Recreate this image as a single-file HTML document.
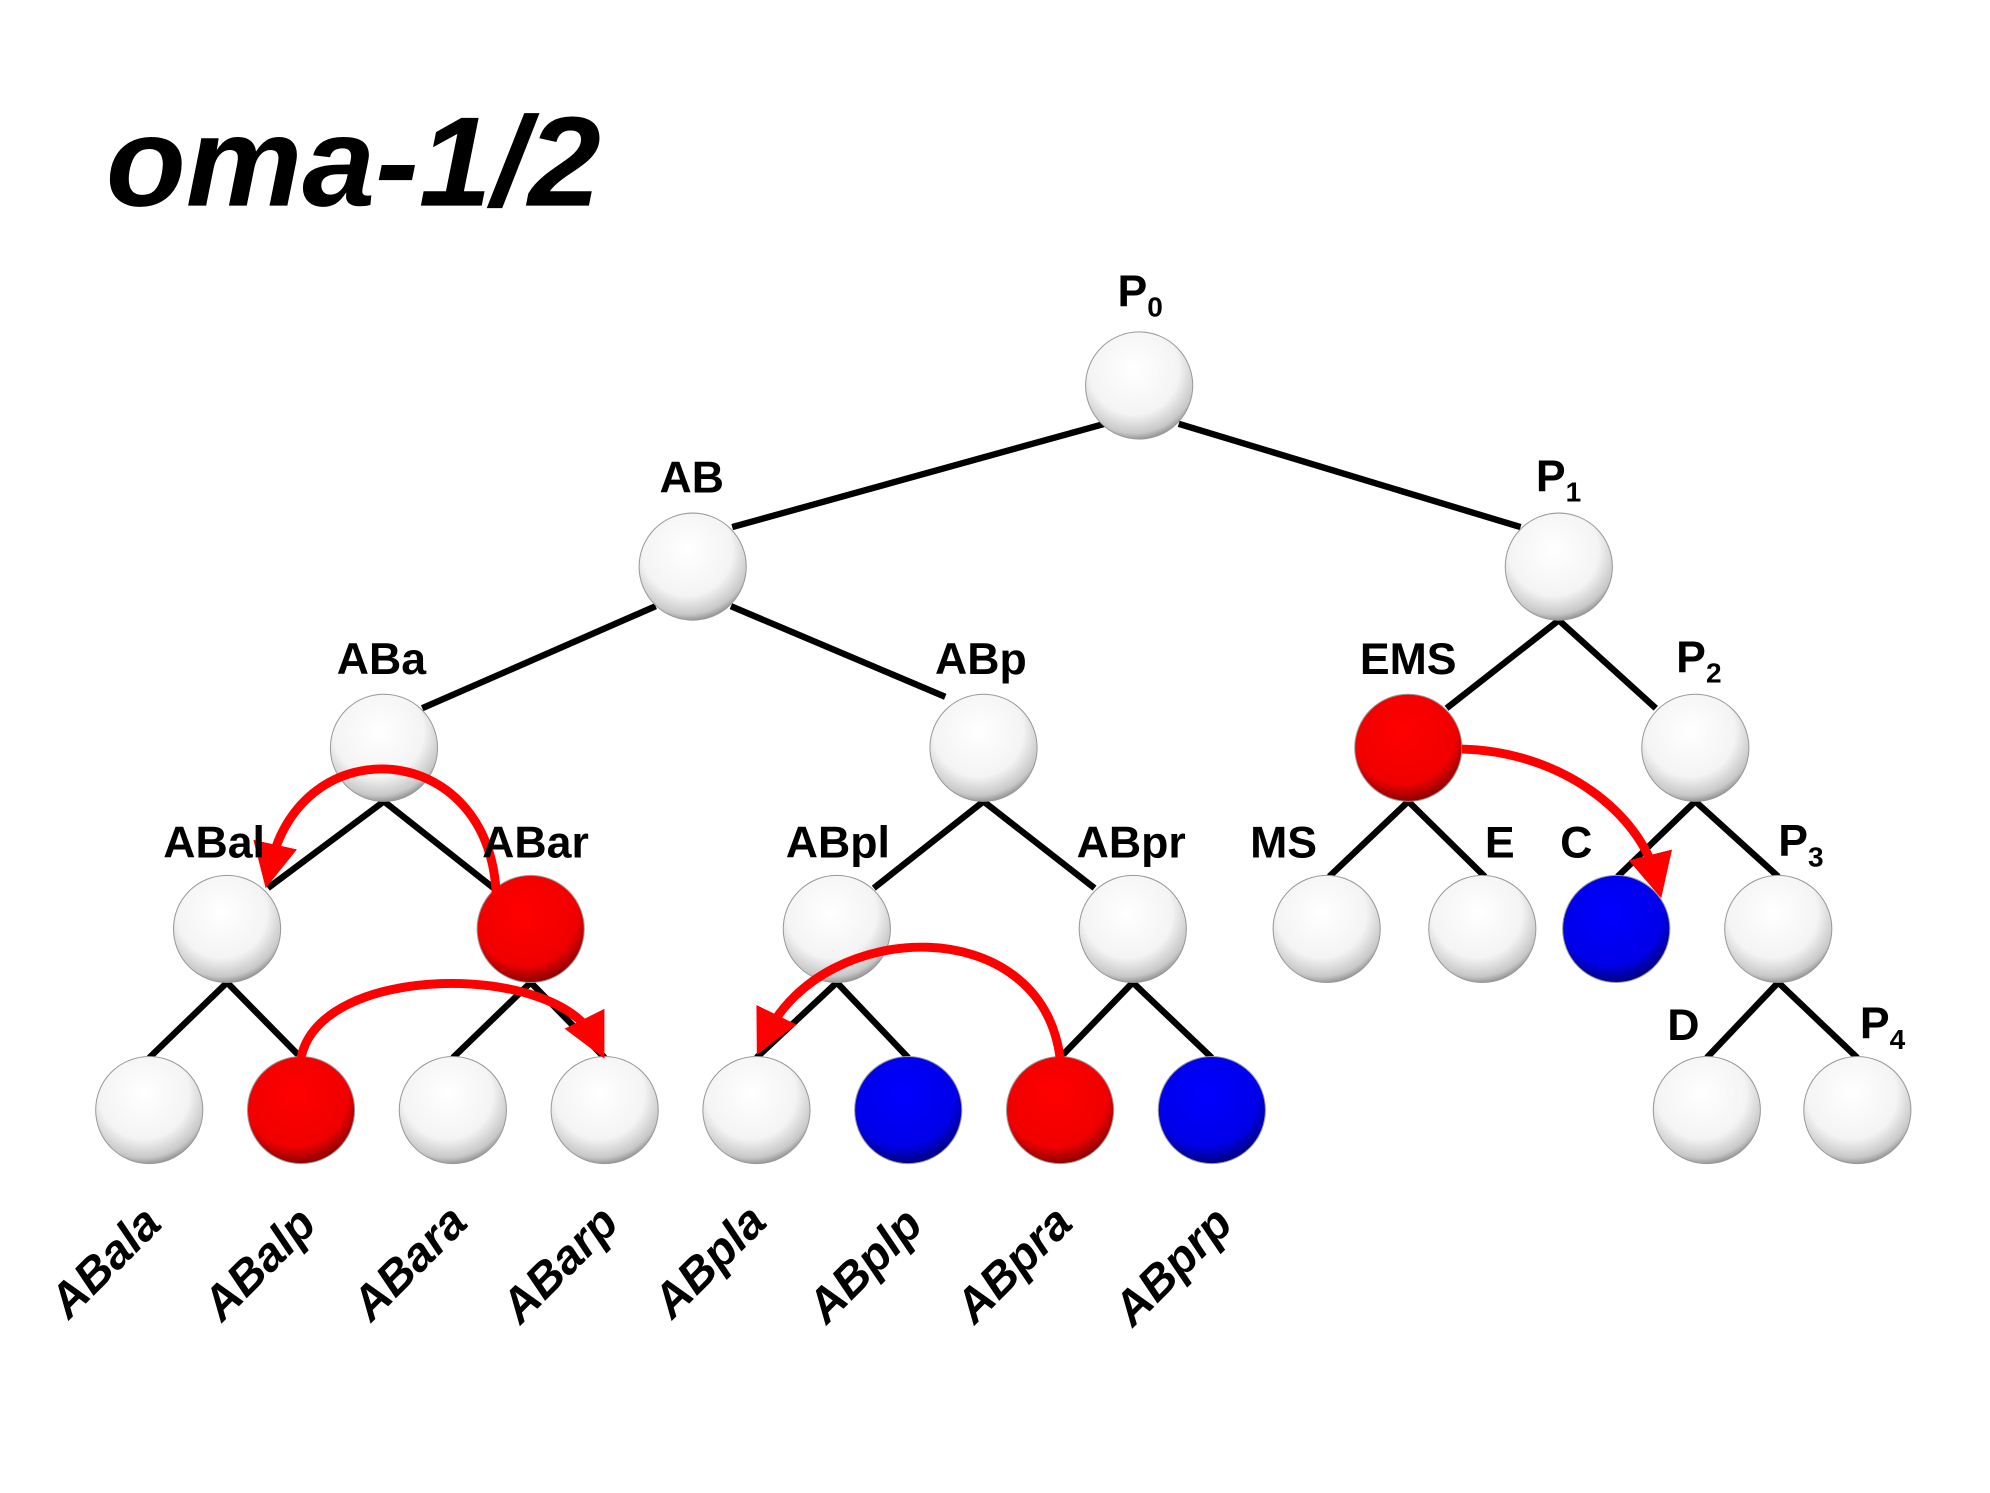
<!DOCTYPE html>
<html><head><style>html,body{margin:0;padding:0;background:#fff}svg{display:block}</style></head>
<body>
<svg width="1990" height="1493" viewBox="0 0 1560 1170" xmlns="http://www.w3.org/2000/svg" font-family="Liberation Sans, Arial, sans-serif" font-weight="bold">
<defs>
<radialGradient id="w" cx="0.45" cy="0.35" r="0.7"><stop offset="0" stop-color="#fff"/><stop offset="0.6" stop-color="#f4f4f4"/><stop offset="0.85" stop-color="#c8c8c8"/><stop offset="1" stop-color="#707070"/></radialGradient>
<radialGradient id="r" cx="0.45" cy="0.35" r="0.7"><stop offset="0" stop-color="#ff0000"/><stop offset="0.7" stop-color="#f00000"/><stop offset="1" stop-color="#700000"/></radialGradient>
<radialGradient id="b" cx="0.45" cy="0.35" r="0.7"><stop offset="0" stop-color="#0000ff"/><stop offset="0.7" stop-color="#0000e8"/><stop offset="1" stop-color="#000060"/></radialGradient>
<marker id="ah" markerWidth="5" markerHeight="5" refX="2.5" refY="2.5" orient="auto" markerUnits="strokeWidth"><path d="M0,0 L5,2.5 L0,5 z" fill="#f00"/></marker>
</defs>
<g transform="translate(-4,-1)">
<text x="87" y="162" font-size="100" font-style="italic" textLength="388" lengthAdjust="spacingAndGlyphs">oma-1/2</text>
<g stroke="#000" stroke-width="5" fill="none">
<line x1="870" y1="333" x2="578" y2="414"/><line x1="928" y1="333" x2="1196" y2="414"/>
<line x1="518" y1="476" x2="335" y2="556"/><line x1="577" y1="476" x2="745" y2="547"/>
<line x1="1226" y1="487" x2="1138" y2="556"/><line x1="1226" y1="487" x2="1302" y2="556"/>
<line x1="305" y1="629" x2="214" y2="697"/><line x1="305" y1="629" x2="391" y2="697"/>
<line x1="775" y1="629" x2="689" y2="697"/><line x1="775" y1="629" x2="862" y2="697"/>
<line x1="1108" y1="629" x2="1046" y2="688"/><line x1="1108" y1="629" x2="1168" y2="688"/>
<line x1="1333" y1="629" x2="1272" y2="688"/><line x1="1333" y1="629" x2="1398" y2="688"/>
<line x1="182" y1="771" x2="121" y2="830"/><line x1="182" y1="771" x2="240" y2="830"/>
<line x1="420" y1="771" x2="359" y2="830"/><line x1="420" y1="771" x2="478" y2="830"/>
<line x1="660" y1="771" x2="597" y2="830"/><line x1="660" y1="771" x2="716" y2="830"/>
<line x1="892" y1="771" x2="835" y2="830"/><line x1="892" y1="771" x2="954" y2="830"/>
<line x1="1398" y1="771" x2="1342" y2="830"/><line x1="1398" y1="771" x2="1460" y2="830"/>
</g>
<g stroke="#999" stroke-width="0.8">
<ellipse cx="897" cy="303" rx="42" ry="42" fill="url(#w)"/>
<ellipse cx="547" cy="445" rx="42" ry="42" fill="url(#w)"/>
<ellipse cx="1226" cy="445" rx="42" ry="42" fill="url(#w)"/>
<ellipse cx="305" cy="587" rx="42" ry="42" fill="url(#w)"/>
<ellipse cx="775" cy="587" rx="42" ry="42" fill="url(#w)"/>
<ellipse cx="1108" cy="587" rx="42" ry="42" fill="url(#r)"/>
<ellipse cx="1333" cy="587" rx="42" ry="42" fill="url(#w)"/>
<ellipse cx="182" cy="729" rx="42" ry="42" fill="url(#w)"/>
<ellipse cx="420" cy="729" rx="42" ry="42" fill="url(#r)"/>
<ellipse cx="660" cy="729" rx="42" ry="42" fill="url(#w)"/>
<ellipse cx="892" cy="729" rx="42" ry="42" fill="url(#w)"/>
<ellipse cx="1044" cy="729" rx="42" ry="42" fill="url(#w)"/>
<ellipse cx="1166" cy="729" rx="42" ry="42" fill="url(#w)"/>
<ellipse cx="1271" cy="729" rx="42" ry="42" fill="url(#b)"/>
<ellipse cx="1398" cy="729" rx="42" ry="42" fill="url(#w)"/>
<ellipse cx="121" cy="871" rx="42" ry="42" fill="url(#w)"/>
<ellipse cx="240" cy="871" rx="42" ry="42" fill="url(#r)"/>
<ellipse cx="359" cy="871" rx="42" ry="42" fill="url(#w)"/>
<ellipse cx="478" cy="871" rx="42" ry="42" fill="url(#w)"/>
<ellipse cx="597" cy="871" rx="42" ry="42" fill="url(#w)"/>
<ellipse cx="716" cy="871" rx="42" ry="42" fill="url(#b)"/>
<ellipse cx="835" cy="871" rx="42" ry="42" fill="url(#r)"/>
<ellipse cx="954" cy="871" rx="42" ry="42" fill="url(#b)"/>
<ellipse cx="1342" cy="871" rx="42" ry="42" fill="url(#w)"/>
<ellipse cx="1460" cy="871" rx="42" ry="42" fill="url(#w)"/>
</g>
<g stroke="#f00" stroke-width="7" fill="none" marker-end="url(#ah)">
<path d="M393,702 C388,580 240,570 216,680"/>
<path d="M240,830 C255,755 440,755 470,815"/>
<path d="M835,830 C820,715 650,720 605,812"/>
<path d="M1150,588 C1230,590 1290,640 1302,688"/>
</g>
<g font-size="35" fill="#000">
<text x="880" y="241">P<tspan font-size="22" dy="8">0</tspan></text>
<text x="521" y="387">AB</text>
<text x="1208" y="386">P<tspan font-size="22" dy="8">1</tspan></text>
<text x="268" y="529">ABa</text>
<text x="737" y="529">ABp</text>
<text x="1070" y="529">EMS</text>
<text x="1318" y="528">P<tspan font-size="22" dy="8">2</tspan></text>
<text x="132" y="673">ABal</text>
<text x="382" y="673">ABar</text>
<text x="620" y="673">ABpl</text>
<text x="848" y="673">ABpr</text>
<text x="984" y="673">MS</text>
<text x="1168" y="673">E</text>
<text x="1227" y="673">C</text>
<text x="1398" y="672">P<tspan font-size="22" dy="8">3</tspan></text>
<text x="1311" y="816">D</text>
<text x="1462" y="815">P<tspan font-size="22" dy="8">4</tspan></text>
</g>
<g font-size="37" font-style="italic" fill="#000">
<text transform="translate(58,1036) rotate(-45)">ABala</text>
<text transform="translate(178,1038) rotate(-45)">ABalp</text>
<text transform="translate(295,1038) rotate(-45)">ABara</text>
<text transform="translate(412,1040) rotate(-45)">ABarp</text>
<text transform="translate(531,1036) rotate(-45)">ABpla</text>
<text transform="translate(652,1040) rotate(-45)">ABplp</text>
<text transform="translate(768,1040) rotate(-45)">ABpra</text>
<text transform="translate(892,1042) rotate(-45)">ABprp</text>
</g>
</g>
</svg>
</body></html>
